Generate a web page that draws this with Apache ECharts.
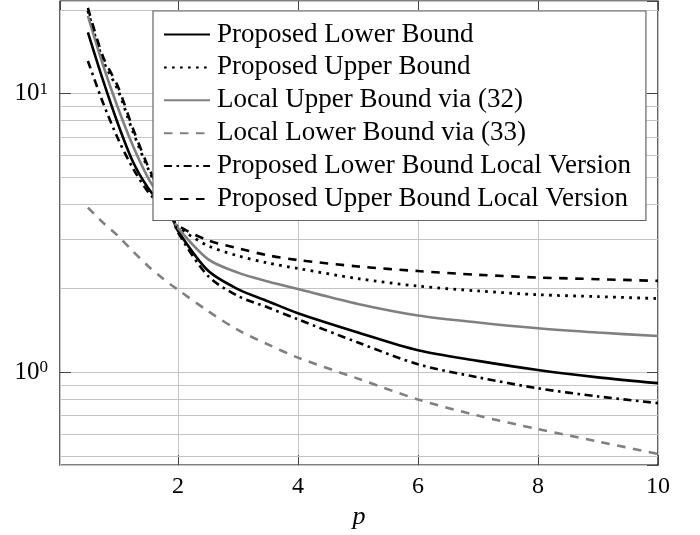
<!DOCTYPE html>
<html>
<head>
<meta charset="utf-8">
<script src="https://cdn.jsdelivr.net/npm/echarts@6/dist/echarts.min.js"></script>
<style>
  html, body { margin: 0; padding: 0; background: #fff; }
  #chart { width: 700px; height: 535px; }
</style>
</head>
<body>
<div id="chart"></div>
<script>
// ---- data ----
const pValues       = [0.5, 0.75, 1, 1.25, 1.5, 1.75, 1.9, 2, 2.5, 3, 3.5, 4, 5, 6, 7, 8, 9, 10];
const lowerBound    = [16.6, 11.2, 7.8, 5.7, 4.6, 3.95, 3.6, 3.22, 2.32, 1.99, 1.80, 1.63, 1.39, 1.20, 1.10, 1.02, 0.96, 0.915];
const upperBound    = [19.8, 13.2, 10.3, 7.3, 5.4, 4.2, 3.6, 3.33, 2.85, 2.62, 2.47, 2.36, 2.17, 2.04, 1.96, 1.90, 1.87, 1.84];
const localUpper32  = [19.0, 12.7, 8.9, 6.5, 5.0, 4.1, 3.6, 3.30, 2.55, 2.28, 2.12, 1.99, 1.76, 1.60, 1.51, 1.44, 1.39, 1.35];
const localLower33  = [3.9, 3.45, 3.09, 2.72, 2.41, 2.17, 2.05, 1.98, 1.66, 1.42, 1.26, 1.13, 0.95, 0.80, 0.70, 0.626, 0.565, 0.51];
const lowerLocalVer = [13.1, 9.3, 6.9, 5.4, 4.45, 3.9, 3.6, 3.18, 2.22, 1.88, 1.71, 1.55, 1.28, 1.07, 0.96, 0.877, 0.82, 0.776];
const upperLocalVer = [20.3, 13.6, 10.6, 7.5, 5.5, 4.25, 3.6, 3.36, 2.98, 2.79, 2.63, 2.53, 2.40, 2.31, 2.24, 2.19, 2.16, 2.13];
const seriesNames = [
  'Proposed Lower Bound',
  'Proposed Upper Bound',
  'Local Upper Bound via (32)',
  'Local Lower Bound via (33)',
  'Proposed Lower Bound Local Version',
  'Proposed Upper Bound Local Version'
];
const minorGridValues = [0.5, 0.6, 0.7, 0.8, 0.9, 2, 3, 4, 5, 6, 7, 8, 9, 20];
const xRange = [0.035, 10];
const yRange = [0.465, 21.5];

// ---- chart ----
const FONT = 'Liberation Serif';
const BLACK = '#000000';
const GRAY = '#808080';
const pairs = arr => pValues.map((p, i) => [p, arr[i]]);

const chart = echarts.init(document.getElementById('chart'), null, { renderer: 'canvas' });

function lineSeries(name, data, color, type, width) {
  return {
    name: name,
    type: 'line',
    data: pairs(data),
    showSymbol: false,
    symbol: 'none',
    smooth: 0.3,
    z: 3,
    lineStyle: { color: color, width: width || 2.6, type: type, cap: 'butt' },
    itemStyle: { color: color }
  };
}

const option = {
  animation: false,
  backgroundColor: '#fff',
  grid: {
    left: 60, top: 1, width: 598, height: 465,
    show: true, borderColor: '#000', borderWidth: 1.2, backgroundColor: 'transparent'
  },
  legend: {
    orient: 'vertical',
    left: 153, top: 11,
    padding: [10, 15, 8, 10],
    backgroundColor: '#fff',
    borderColor: '#666',
    borderWidth: 1.2,
    borderRadius: 0,
    z: 10,
    itemWidth: 46,
    itemHeight: 26,
    itemGap: 5.9,
    itemStyle: { color: 'rgba(0,0,0,0)', borderWidth: 0, opacity: 0 },
    textStyle: { fontFamily: FONT, fontSize: 27, color: '#000', padding: [0, 0, 0, 2] },
    data: seriesNames
  },
  xAxis: [{
    type: 'value',
    min: xRange[0], max: xRange[1],
    splitNumber: 5,
    axisLine: { show: false },
    axisTick: { show: true, inside: true, length: 10, lineStyle: { color: '#444' } },
    axisLabel: {
      showMinLabel: false, showMaxLabel: true,
      fontFamily: FONT, fontSize: 24, color: '#000', margin: 10
    },
    splitLine: { show: true, lineStyle: { color: '#c4c4c4', width: 1 } },
    name: 'p',
    nameLocation: 'middle',
    nameGap: 32,
    nameTextStyle: { fontFamily: FONT, fontStyle: 'italic', fontSize: 26, color: '#000' }
  }, {
    type: 'value',
    position: 'top',
    min: xRange[0], max: xRange[1],
    splitNumber: 5,
    axisLine: { show: false },
    axisTick: { show: true, inside: true, length: 10, lineStyle: { color: '#444' } },
    axisLabel: { show: false },
    splitLine: { show: false }
  }],
  yAxis: [{
    type: 'log',
    logBase: 10,
    min: yRange[0], max: yRange[1],
    axisLine: { show: false },
    axisTick: { show: true, inside: true, length: 11, lineStyle: { color: '#444' } },
    axisLabel: {
      showMinLabel: false, showMaxLabel: false,
      margin: 12,
      formatter: function (v) {
        const l = Math.log10(v);
        const e = Math.round(l);
        if (Math.abs(l - e) > 1e-6) return '';
        return '{b|10}{s|' + e + '}';
      },
      rich: {
        b: { fontFamily: FONT, fontSize: 25, color: '#000', lineHeight: 26 },
        s: { fontFamily: FONT, fontSize: 17, color: '#000', verticalAlign: 'top', lineHeight: 26 }
      }
    },
    splitLine: { show: true, lineStyle: { color: '#c4c4c4', width: 1 } }
  }, {
    type: 'log',
    logBase: 10,
    position: 'right',
    min: yRange[0], max: yRange[1],
    axisLine: { show: false },
    axisTick: { show: true, inside: true, length: 11, lineStyle: { color: '#444' } },
    axisLabel: { show: false },
    splitLine: { show: false }
  }],
  series: [
    {
      name: 'minor-grid',
      type: 'line',
      data: [],
      z: 1,
      silent: true,
      markLine: {
        z: 1,
        silent: true,
        animation: false,
        symbol: ['none', 'none'],
        label: { show: false },
        lineStyle: { color: '#c4c4c4', width: 1, type: 'solid' },
        data: minorGridValues.map(v => ({ yAxis: v }))
      }
    },
    lineSeries(seriesNames[0], lowerBound, BLACK, 'solid'),
    lineSeries(seriesNames[1], upperBound, BLACK, [2.7, 5.3], 2.8),
    lineSeries(seriesNames[2], localUpper32, GRAY, 'solid'),
    lineSeries(seriesNames[3], localLower33, GRAY, [8.5, 7.5]),
    lineSeries(seriesNames[4], lowerLocalVer, BLACK, [8, 4.5, 2.6, 4.5]),
    lineSeries(seriesNames[5], upperLocalVer, BLACK, [8.5, 7.5])
  ]
};
chart.setOption(option);
</script>
</body>
</html>
